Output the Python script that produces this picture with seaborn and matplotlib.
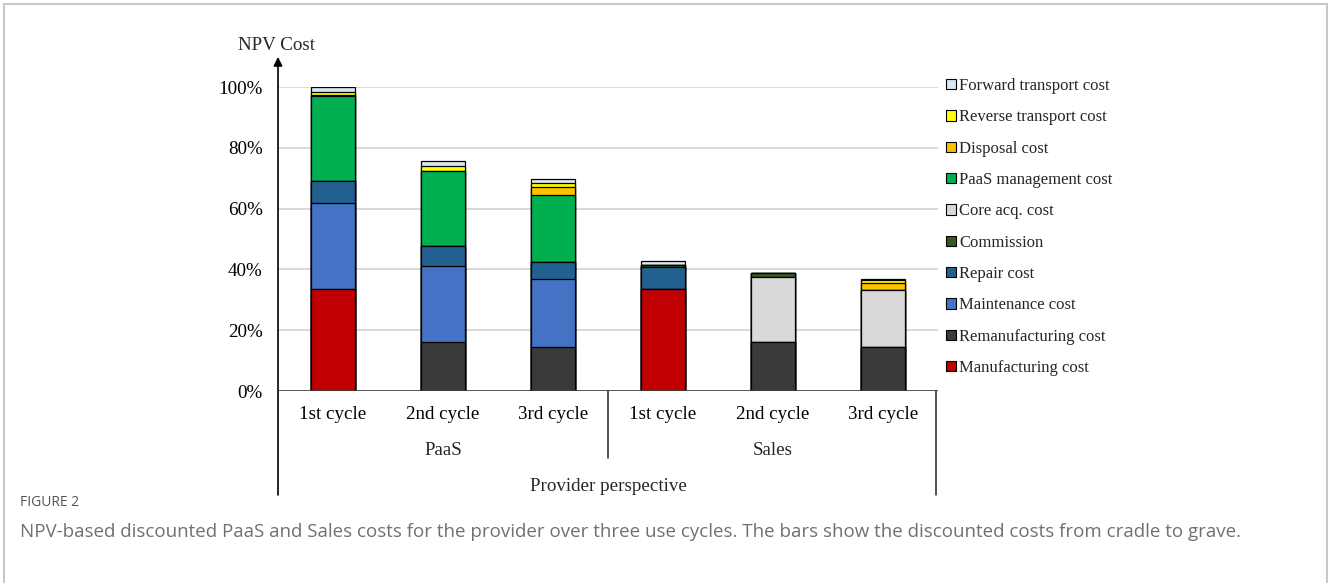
import matplotlib
matplotlib.use("Agg")
import matplotlib.pyplot as plt
import matplotlib.transforms as mtransforms
from matplotlib.patches import Patch, Rectangle
import numpy as np
import pandas as pd
import seaborn as sns

# ---------------- data ----------------
keys = ["PaaS-1", "PaaS-2", "PaaS-3", "Sales-1", "Sales-2", "Sales-3"]
cycle_labels = ["1st cycle", "2nd cycle", "3rd cycle", "1st cycle", "2nd cycle", "3rd cycle"]
groups = ["PaaS", "Sales"]
super_group = "Provider perspective"

manufacturing = [33.6, 0.0, 0.0, 33.6, 0.0, 0.0]
remanufacturing = [0.0, 16.0, 14.4, 0.0, 16.0, 14.4]
maintenance = [28.4, 25.2, 22.3, 0.0, 0.0, 0.0]
repair = [7.2, 6.5, 5.6, 7.3, 0.0, 0.0]
core_acq = [0.0, 0.0, 0.0, 0.0, 21.4, 18.8]
commission = [0.0, 0.0, 0.0, 0.4, 1.4, 0.0]
paas_mgmt = [28.0, 24.6, 22.1, 0.0, 0.0, 0.0]
disposal = [0.2, 0.2, 2.6, 0.0, 0.0, 2.4]
reverse_tr = [0.8, 1.4, 1.4, 0.0, 0.0, 1.0]
forward_tr = [1.8, 1.6, 1.4, 1.5, 0.0, 0.3]

# stacking order (bottom -> top)
stack = [
    ("Manufacturing cost", manufacturing, "#c00000"),
    ("Remanufacturing cost", remanufacturing, "#3a3a3a"),
    ("Maintenance cost", maintenance, "#4472c4"),
    ("Repair cost", repair, "#22608f"),
    ("Core acq. cost", core_acq, "#d9d9d9"),
    ("Commission", commission, "#375623"),
    ("PaaS management cost", paas_mgmt, "#00b050"),
    ("Disposal cost", disposal, "#ffc000"),
    ("Reverse transport cost", reverse_tr, "#ffff00"),
    ("Forward transport cost", forward_tr, "#dce6f2"),
]
legend_order = [
    "Forward transport cost", "Reverse transport cost", "Disposal cost",
    "PaaS management cost", "Core acq. cost", "Commission", "Repair cost",
    "Maintenance cost", "Remanufacturing cost", "Manufacturing cost",
]

y_ticks = [0, 20, 40, 60, 80, 100]

# ---------------- style ----------------
sns.set_theme(style="white")
plt.rcParams["font.family"] = ["Liberation Serif", "DejaVu Serif"]

W, H = 1328, 583
fig = plt.figure(figsize=(W / 100, H / 100), dpi=100)
ax = fig.add_axes([278 / W, (H - 391) / H, 660 / W, 304 / H])

df = pd.DataFrame({"key": keys})
cum = np.zeros(len(keys))
cums = []
for name, vals, col in stack:
    cum = cum + np.array(vals)
    cums.append((name, cum.copy(), col))
    df[name] = cum.copy()

# draw cumulative bars from top series down so lower ones overlay
for name, c, col in reversed(cums):
    sns.barplot(data=df, x="key", y=name, order=keys, color=col, saturation=1,
                edgecolor="black", linewidth=0.9, width=0.4, errorbar=None, ax=ax)

ax.set_xlim(-0.5, 5.5)
ax.set_ylim(0, 100)
ax.set_yticks(y_ticks)
ax.set_yticklabels([f"{v}%" for v in y_ticks])
ax.yaxis.grid(True, color="#d9d9d9", linewidth=1.4)
ax.set_axisbelow(True)
for s in ax.spines.values():
    s.set_visible(False)
ax.set_xlabel("")
ax.set_ylabel("")
ax.tick_params(axis="y", length=0, pad=11, labelsize=13.7, colors="black")
ax.set_xticks(range(len(keys)))
ax.set_xticklabels(cycle_labels)
ax.tick_params(axis="x", length=0, pad=11, labelsize=13.7, colors="black")

ax.axhline(0, color="#404040", lw=1.2, zorder=5)

trans = mtransforms.blended_transform_factory(ax.transData, ax.transAxes)
# y axis with arrow
ax.annotate("", xy=(0, 1.099), xytext=(0, -0.342), xycoords="axes fraction",
            textcoords="axes fraction",
            arrowprops=dict(arrowstyle="-|>", color="black", lw=1.2,
                            mutation_scale=13, shrinkA=0, shrinkB=0))
ax.plot([2.5, 2.5], [0, -0.22], transform=trans, clip_on=False, color="#222222", lw=1.1)
ax.plot([5.48, 5.48], [0, -0.342], transform=trans, clip_on=False, color="#222222", lw=1.1)

ax.text(1, -0.195, groups[0], transform=trans, ha="center", va="center", fontsize=13.7)
ax.text(4, -0.195, groups[1], transform=trans, ha="center", va="center", fontsize=13.7)
ax.text(2.5, -0.313, super_group, transform=trans, ha="center", va="center", fontsize=13.7)

fig.text(276 / W, 1 - 45 / H, "NPV Cost", ha="center", va="center", fontsize=13.7)

# legend
colmap = {n: c for n, _, c in stack}
handles = [Patch(facecolor=colmap[n], edgecolor="black", linewidth=0.8) for n in legend_order]
fig.legend(handles, legend_order, loc="upper left", bbox_to_anchor=(946 / W, 1 - 78 / H),
           frameon=False, fontsize=12, handlelength=0.6, handleheight=0.6,
           handletextpad=0.2, labelspacing=0.92, borderaxespad=0, borderpad=0)

# border + caption
fig.patches.append(Rectangle((4 / W, -0.1), (1326.5 - 4) / W, 1 - 4 / H + 0.1,
                             transform=fig.transFigure, fill=False,
                             edgecolor="#c8c8c8", lw=1.5))
fig.text(20 / W, 1 - 503 / H, "FIGURE 2", fontsize=10, color="#555555",
         family="Open Sans", va="center", ha="left")
fig.text(20 / W, 1 - 532 / H,
         "NPV-based discounted PaaS and Sales costs for the provider over three use cycles. "
         "The bars show the discounted costs from cradle to grave.",
         fontsize=13.5, color="#707070", family="Open Sans", va="center", ha="left")

fig.savefig("out.png", dpi=100)
